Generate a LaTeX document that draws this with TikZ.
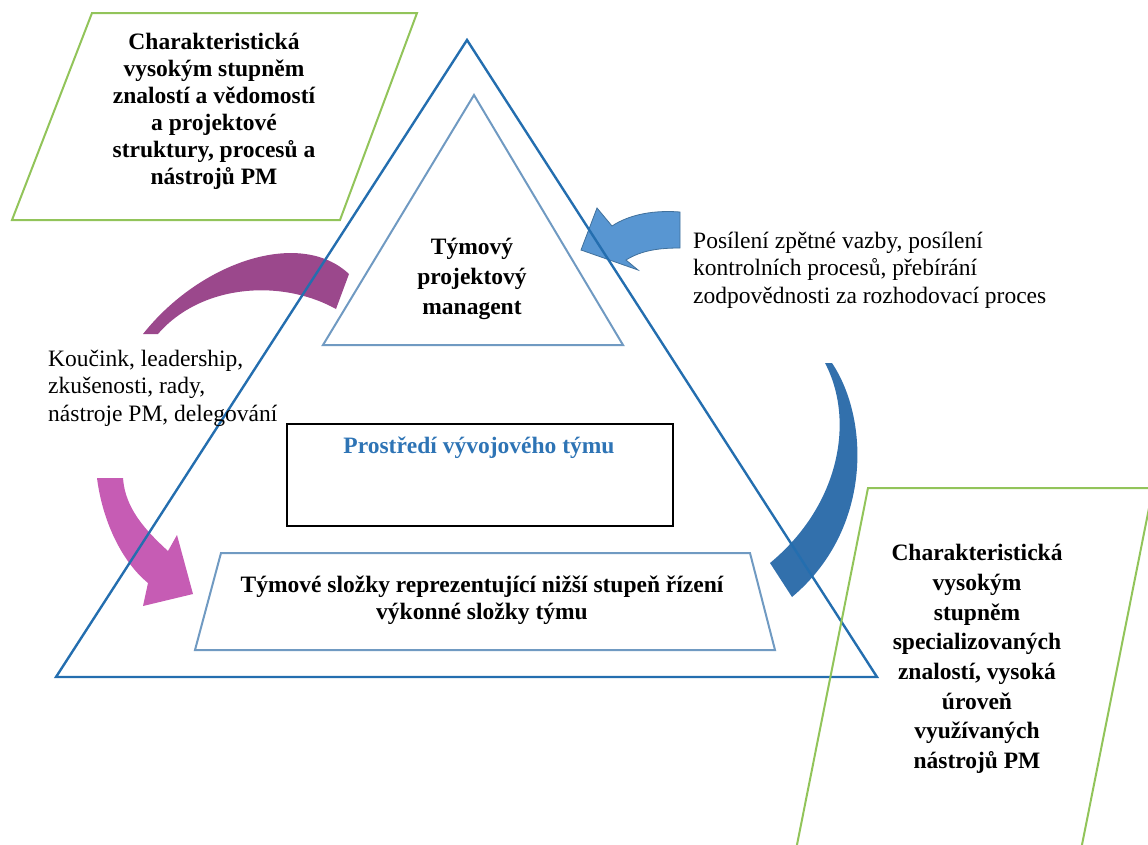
\documentclass[tikz,border=0pt]{standalone}
\usepackage{fontspec}
\setmainfont{Liberation Serif}
\definecolor{tri}{RGB}{36,110,175}
\definecolor{innerln}{RGB}{112,154,194}
\definecolor{boxgreen}{RGB}{146,196,90}
\definecolor{purplearc}{RGB}{155,72,140}
\definecolor{pinkarr}{RGB}{198,92,180}
\definecolor{bluearc}{RGB}{50,112,172}
\definecolor{bluearr}{RGB}{88,150,210}
\definecolor{bluearredge}{RGB}{65,113,156}
\definecolor{titleblue}{RGB}{46,116,181}
\tikzset{
  boldtext/.style={font=\fontsize{23.5}{27}\selectfont\bfseries, align=center, inner sep=0pt},
  plaintext/.style={font=\fontsize{23.5}{27.5}\selectfont, align=left, inner sep=0pt},
  outerline/.style={draw=tri, line width=2.4pt, line join=miter},
  innerline/.style={draw=innerln, line width=2pt, line join=miter},
  greenbox/.style={draw=boxgreen, line width=2pt, line join=miter},
}
\begin{document}
\begin{tikzpicture}[x=1pt,y=-1pt]
\useasboundingbox (0,0) rectangle (1148,844);

% curved bands and arrows behind the pyramid
\fill[purplearc] (143,334) .. controls (200,262) and (300,228) .. (349,274)
  -- (336,309) .. controls (280,278) and (200,285) .. (158,334) -- cycle;
\fill[pinkarr] (97,478) .. controls (102,518) and (120,560) .. (148,583)
  -- (143,606) -- (193,594) -- (177,535) -- (168,551)
  .. controls (145,530) and (125,508) .. (123,478) -- cycle;
\fill[bluearc] (832,363) .. controls (870,420) and (872,530) .. (792,597)
  -- (770,563) .. controls (840,505) and (855,420) .. (825,363) -- cycle;
\filldraw[fill=bluearr, draw=bluearredge, line width=0.8pt]
  (680,212) .. controls (655,210) and (630,214) .. (612,226)
  -- (597,208) -- (581,250) -- (638,270) -- (626,260)
  .. controls (642,250) and (660,248) .. (680,248) -- cycle;

% pyramid outline and its inner parts
\draw[outerline] (56,677) -- (467,40) -- (877,677) -- cycle;
\draw[innerline] (323,345) -- (474,95) -- (623,345) -- cycle;
\draw[innerline] (221,553) -- (750,553) -- (775,650) -- (195,650) -- cycle;
\draw[black, line width=1.4pt] (287,424) rectangle (673,526);

% side boxes
\draw[greenbox] (92,13) -- (417,13) -- (340,220) -- (12,220) -- cycle;
\begin{scope}
  \clip (0,0) rectangle (1148,844);
  \draw[greenbox] (868,488) -- (1153,488) -- (1071,900) -- (786,900) -- cycle;
\end{scope}

% labels
\node[boldtext] (topleft) at (214,111)
  {Charakteristická\\vysokým stupněm\\znalostí a vědomostí\\a projektové\\struktury, procesů a\\nástrojů PM};
\node[boldtext, font=\fontsize{23.5}{30}\selectfont\bfseries] (apex) at (472,279)
  {Týmový\\projektový\\managent};
\node[plaintext, anchor=west] (feedback) at (693,270)
  {Posílení zpětné vazby, posílení\\kontrolních procesů, přebírání\\zodpovědnosti za rozhodovací proces};
\node[plaintext, anchor=west] (coaching) at (48,388)
  {Koučink, leadership,\\zkušenosti, rady,\\nástroje PM, delegování};
\node[boldtext, text=titleblue] (env) at (479,448) {Prostředí vývojového týmu};
\node[boldtext] (base) at (482,600)
  {Týmové složky reprezentující nižší stupeň řízení\\výkonné složky týmu};
\node[boldtext, font=\fontsize{23.5}{29.7}\selectfont\bfseries] (rightbox) at (977,659)
  {Charakteristická\\vysokým\\stupněm\\specializovaných\\znalostí, vysoká\\úroveň\\využívaných\\nástrojů PM};
\end{tikzpicture}
\end{document}
